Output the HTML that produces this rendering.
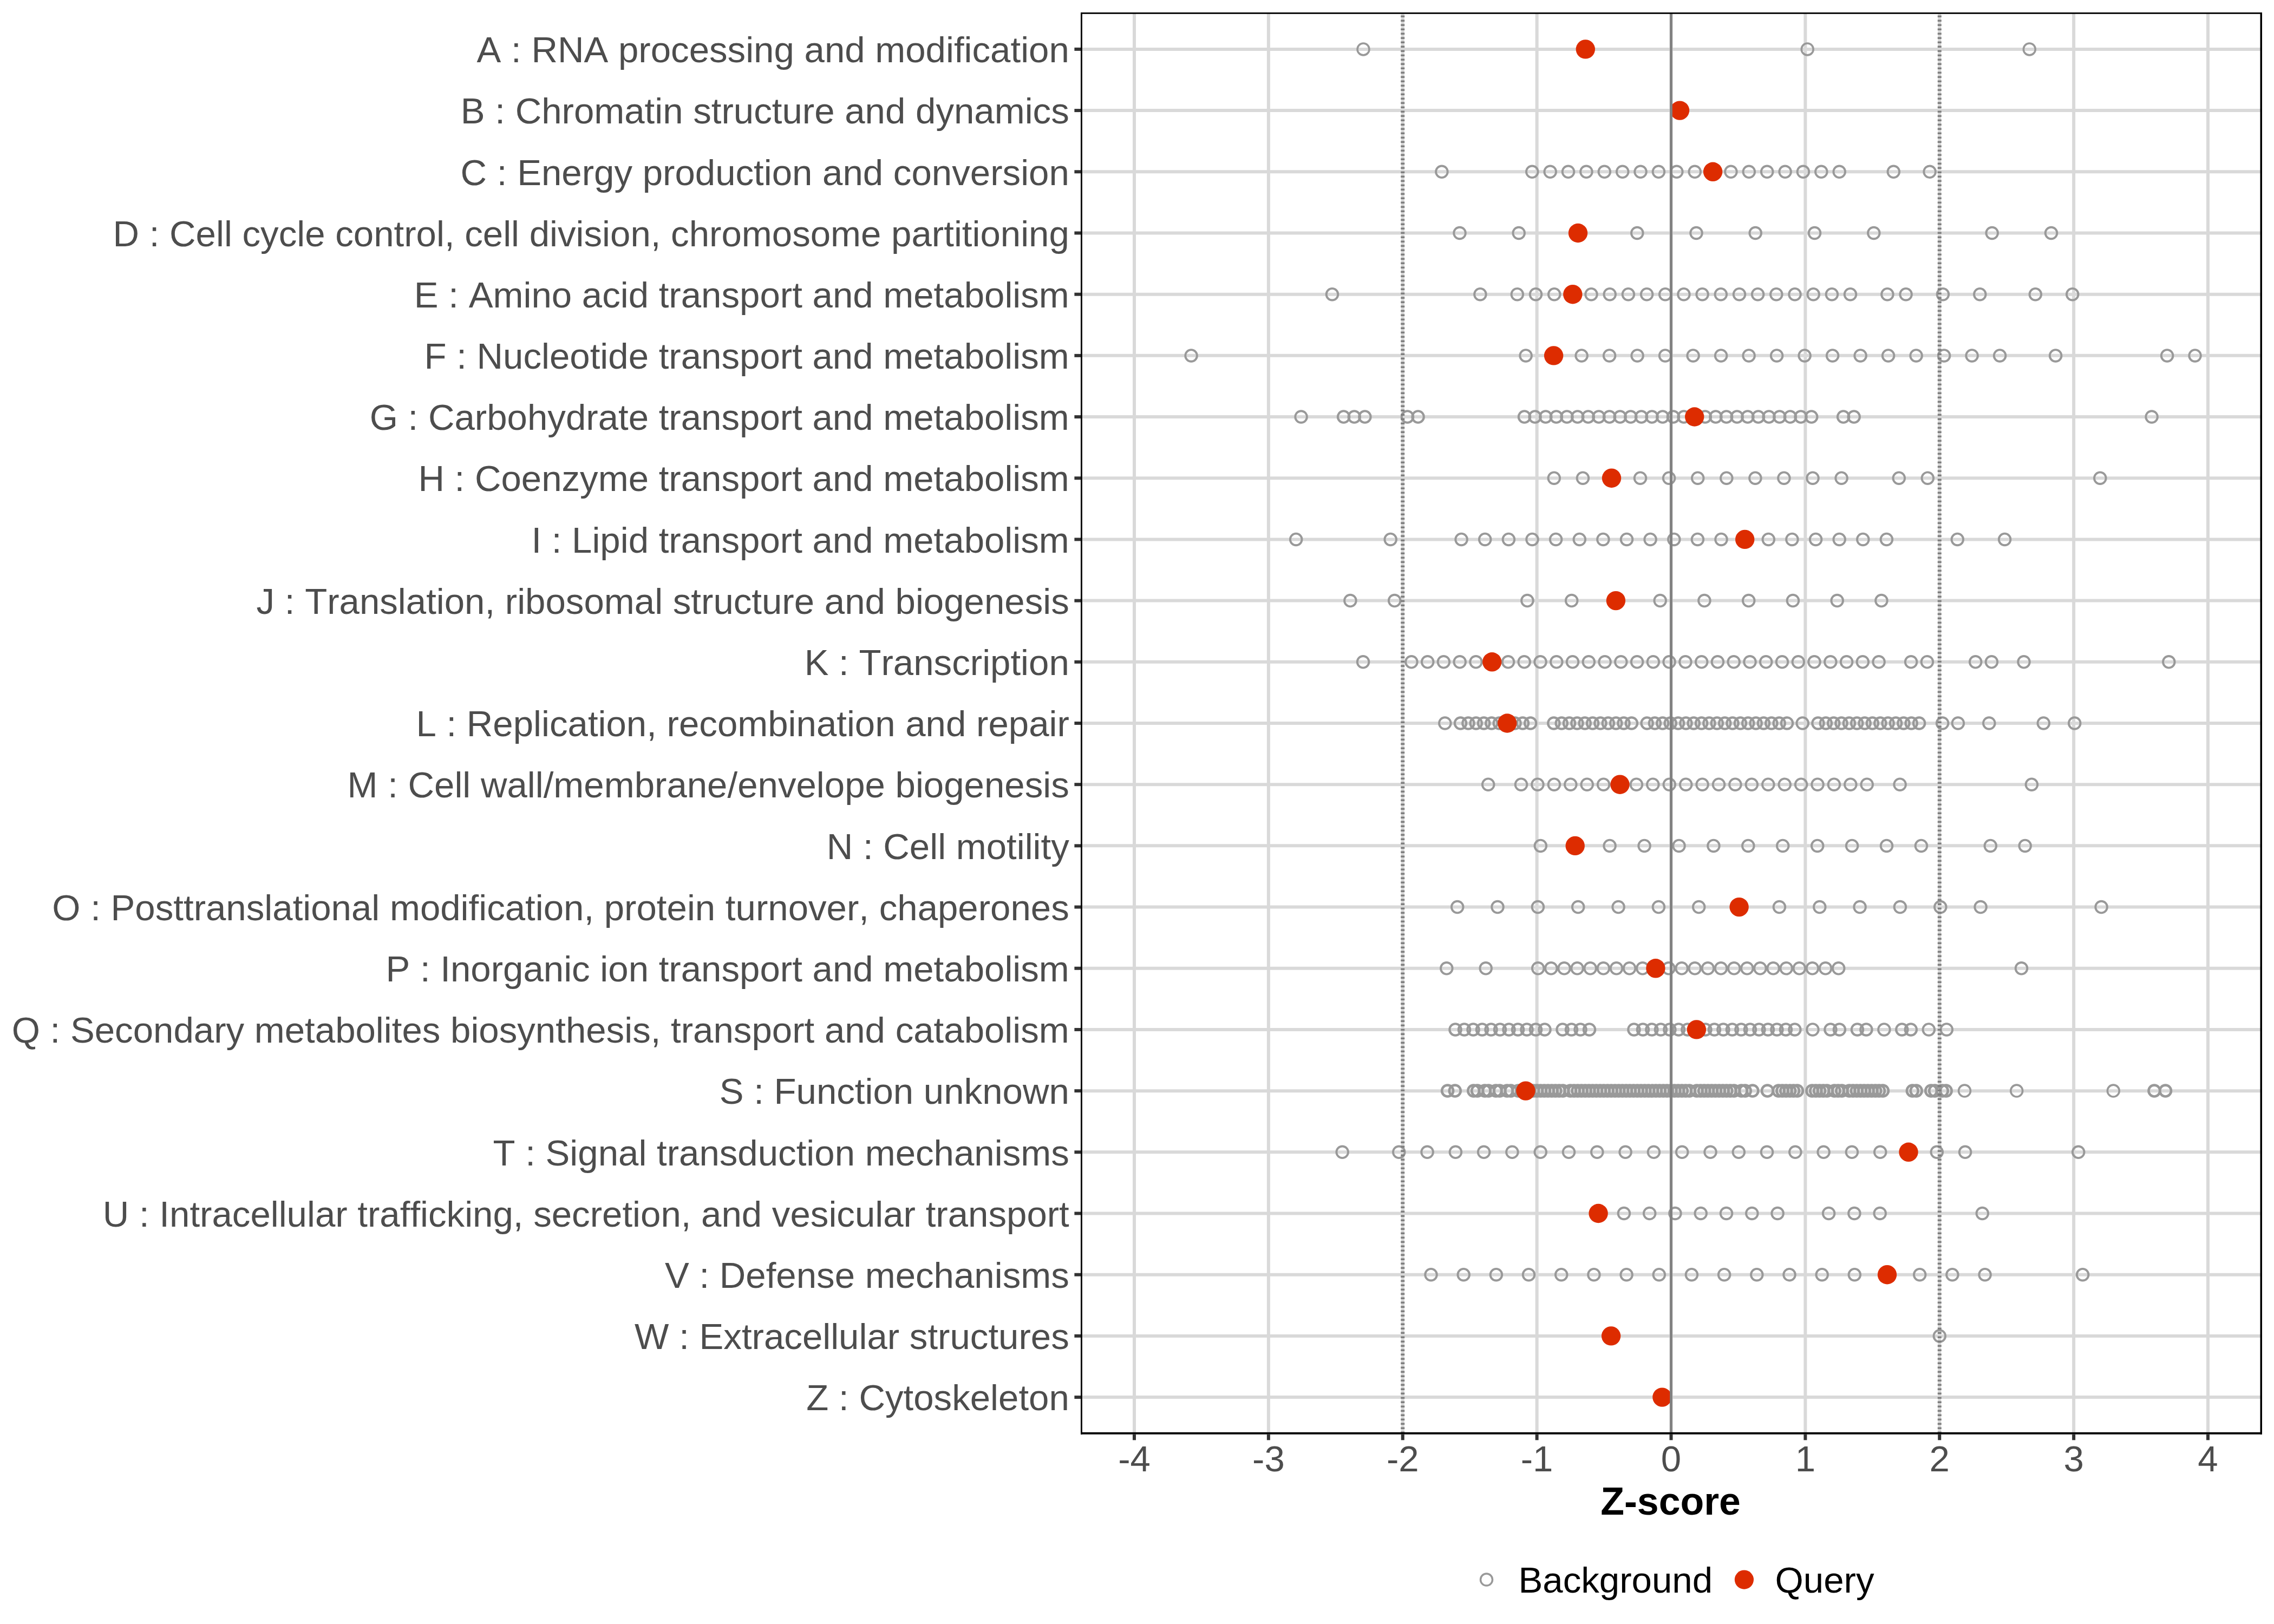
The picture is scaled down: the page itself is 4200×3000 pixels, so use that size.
<!DOCTYPE html>
<html><head><meta charset="utf-8"><title>Z-score plot</title>
<style>
html,body{margin:0;padding:0;background:#fff;}
svg{display:block;}
text{font-family:"Liberation Sans",sans-serif;font-kerning:none;}
.yl{font-size:67.2px;fill:#4D4D4D;text-anchor:end;}
.xl{font-size:67.2px;fill:#4D4D4D;text-anchor:middle;}
.ttl{font-size:71.6px;font-weight:bold;fill:#000;text-anchor:middle;}
.lg{font-size:67.2px;fill:#000;}
.g{stroke:#D9D9D9;stroke-width:6;}
.tk{stroke:#333333;stroke-width:6;}
.bg{fill:none;stroke:#999999;stroke-width:3.5;}
.q{fill:#DD2C00;}
</style></head><body>
<svg width="4200" height="3000" viewBox="0 0 4200 3000">
<rect width="4200" height="3000" fill="#fff"/>

<g class="g">
<line x1="2095.00" y1="23.0" x2="2095.00" y2="2649.7"/>
<line x1="2342.88" y1="23.0" x2="2342.88" y2="2649.7"/>
<line x1="2590.75" y1="23.0" x2="2590.75" y2="2649.7"/>
<line x1="2838.62" y1="23.0" x2="2838.62" y2="2649.7"/>
<line x1="3086.50" y1="23.0" x2="3086.50" y2="2649.7"/>
<line x1="3334.38" y1="23.0" x2="3334.38" y2="2649.7"/>
<line x1="3582.25" y1="23.0" x2="3582.25" y2="2649.7"/>
<line x1="3830.12" y1="23.0" x2="3830.12" y2="2649.7"/>
<line x1="4078.00" y1="23.0" x2="4078.00" y2="2649.7"/>
<line x1="1996.0" y1="90.90" x2="4178.0" y2="90.90"/>
<line x1="1996.0" y1="204.09" x2="4178.0" y2="204.09"/>
<line x1="1996.0" y1="317.28" x2="4178.0" y2="317.28"/>
<line x1="1996.0" y1="430.47" x2="4178.0" y2="430.47"/>
<line x1="1996.0" y1="543.66" x2="4178.0" y2="543.66"/>
<line x1="1996.0" y1="656.85" x2="4178.0" y2="656.85"/>
<line x1="1996.0" y1="770.04" x2="4178.0" y2="770.04"/>
<line x1="1996.0" y1="883.23" x2="4178.0" y2="883.23"/>
<line x1="1996.0" y1="996.42" x2="4178.0" y2="996.42"/>
<line x1="1996.0" y1="1109.61" x2="4178.0" y2="1109.61"/>
<line x1="1996.0" y1="1222.80" x2="4178.0" y2="1222.80"/>
<line x1="1996.0" y1="1335.99" x2="4178.0" y2="1335.99"/>
<line x1="1996.0" y1="1449.18" x2="4178.0" y2="1449.18"/>
<line x1="1996.0" y1="1562.37" x2="4178.0" y2="1562.37"/>
<line x1="1996.0" y1="1675.56" x2="4178.0" y2="1675.56"/>
<line x1="1996.0" y1="1788.75" x2="4178.0" y2="1788.75"/>
<line x1="1996.0" y1="1901.94" x2="4178.0" y2="1901.94"/>
<line x1="1996.0" y1="2015.13" x2="4178.0" y2="2015.13"/>
<line x1="1996.0" y1="2128.32" x2="4178.0" y2="2128.32"/>
<line x1="1996.0" y1="2241.51" x2="4178.0" y2="2241.51"/>
<line x1="1996.0" y1="2354.70" x2="4178.0" y2="2354.70"/>
<line x1="1996.0" y1="2467.89" x2="4178.0" y2="2467.89"/>
<line x1="1996.0" y1="2581.08" x2="4178.0" y2="2581.08"/>
</g>
<g class="bg">
<circle cx="2518.0" cy="90.9" r="10.95" stroke-width="3.6"/>
<circle cx="3338.2" cy="90.9" r="10.95" stroke-width="3.6"/>
<circle cx="3748.3" cy="90.9" r="10.95" stroke-width="3.6"/>
<circle cx="2662.9" cy="317.3" r="10.80" stroke-width="3.9"/>
<circle cx="2829.8" cy="317.3" r="10.80" stroke-width="3.9"/>
<circle cx="2863.2" cy="317.3" r="10.80" stroke-width="3.9"/>
<circle cx="2896.5" cy="317.3" r="10.80" stroke-width="3.9"/>
<circle cx="2929.9" cy="317.3" r="10.80" stroke-width="3.9"/>
<circle cx="2963.3" cy="317.3" r="10.80" stroke-width="3.9"/>
<circle cx="2996.7" cy="317.3" r="10.80" stroke-width="3.9"/>
<circle cx="3030.0" cy="317.3" r="10.80" stroke-width="3.9"/>
<circle cx="3063.4" cy="317.3" r="10.80" stroke-width="3.9"/>
<circle cx="3096.8" cy="317.3" r="10.80" stroke-width="3.9"/>
<circle cx="3130.2" cy="317.3" r="10.80" stroke-width="3.9"/>
<circle cx="3196.9" cy="317.3" r="10.80" stroke-width="3.9"/>
<circle cx="3230.3" cy="317.3" r="10.80" stroke-width="3.9"/>
<circle cx="3263.7" cy="317.3" r="10.80" stroke-width="3.9"/>
<circle cx="3297.1" cy="317.3" r="10.80" stroke-width="3.9"/>
<circle cx="3330.4" cy="317.3" r="10.80" stroke-width="3.9"/>
<circle cx="3363.8" cy="317.3" r="10.80" stroke-width="3.9"/>
<circle cx="3397.2" cy="317.3" r="10.80" stroke-width="3.9"/>
<circle cx="3497.3" cy="317.3" r="10.80" stroke-width="3.9"/>
<circle cx="3564.1" cy="317.3" r="10.80" stroke-width="3.9"/>
<circle cx="2696.0" cy="430.5" r="10.80" stroke-width="3.9"/>
<circle cx="2805.2" cy="430.5" r="10.80" stroke-width="3.9"/>
<circle cx="3023.8" cy="430.5" r="10.80" stroke-width="3.9"/>
<circle cx="3133.0" cy="430.5" r="10.80" stroke-width="3.9"/>
<circle cx="3242.2" cy="430.5" r="10.80" stroke-width="3.9"/>
<circle cx="3351.5" cy="430.5" r="10.80" stroke-width="3.9"/>
<circle cx="3460.8" cy="430.5" r="10.80" stroke-width="3.9"/>
<circle cx="3679.2" cy="430.5" r="10.80" stroke-width="3.9"/>
<circle cx="3788.5" cy="430.5" r="10.80" stroke-width="3.9"/>
<circle cx="2460.5" cy="543.7" r="10.80" stroke-width="3.9"/>
<circle cx="2733.9" cy="543.7" r="10.80" stroke-width="3.9"/>
<circle cx="2802.3" cy="543.7" r="10.80" stroke-width="3.9"/>
<circle cx="2836.5" cy="543.7" r="10.80" stroke-width="3.9"/>
<circle cx="2870.7" cy="543.7" r="10.80" stroke-width="3.9"/>
<circle cx="2939.0" cy="543.7" r="10.80" stroke-width="3.9"/>
<circle cx="2973.2" cy="543.7" r="10.80" stroke-width="3.9"/>
<circle cx="3007.4" cy="543.7" r="10.80" stroke-width="3.9"/>
<circle cx="3041.6" cy="543.7" r="10.80" stroke-width="3.9"/>
<circle cx="3075.7" cy="543.7" r="10.80" stroke-width="3.9"/>
<circle cx="3109.9" cy="543.7" r="10.80" stroke-width="3.9"/>
<circle cx="3144.1" cy="543.7" r="10.80" stroke-width="3.9"/>
<circle cx="3178.3" cy="543.7" r="10.80" stroke-width="3.9"/>
<circle cx="3212.5" cy="543.7" r="10.80" stroke-width="3.9"/>
<circle cx="3246.6" cy="543.7" r="10.80" stroke-width="3.9"/>
<circle cx="3280.8" cy="543.7" r="10.80" stroke-width="3.9"/>
<circle cx="3315.0" cy="543.7" r="10.80" stroke-width="3.9"/>
<circle cx="3349.2" cy="543.7" r="10.80" stroke-width="3.9"/>
<circle cx="3383.4" cy="543.7" r="10.80" stroke-width="3.9"/>
<circle cx="3417.5" cy="543.7" r="10.80" stroke-width="3.9"/>
<circle cx="3485.9" cy="543.7" r="10.80" stroke-width="3.9"/>
<circle cx="3520.1" cy="543.7" r="10.80" stroke-width="3.9"/>
<circle cx="3588.4" cy="543.7" r="10.80" stroke-width="3.9"/>
<circle cx="3656.8" cy="543.7" r="10.80" stroke-width="3.9"/>
<circle cx="3759.3" cy="543.7" r="10.80" stroke-width="3.9"/>
<circle cx="3827.7" cy="543.7" r="10.80" stroke-width="3.9"/>
<circle cx="2200.1" cy="656.9" r="10.80" stroke-width="3.9"/>
<circle cx="2818.1" cy="656.9" r="10.80" stroke-width="3.9"/>
<circle cx="2921.1" cy="656.9" r="10.80" stroke-width="3.9"/>
<circle cx="2972.6" cy="656.9" r="10.80" stroke-width="3.9"/>
<circle cx="3024.1" cy="656.9" r="10.80" stroke-width="3.9"/>
<circle cx="3075.6" cy="656.9" r="10.80" stroke-width="3.9"/>
<circle cx="3127.1" cy="656.9" r="10.80" stroke-width="3.9"/>
<circle cx="3178.6" cy="656.9" r="10.80" stroke-width="3.9"/>
<circle cx="3230.1" cy="656.9" r="10.80" stroke-width="3.9"/>
<circle cx="3281.6" cy="656.9" r="10.80" stroke-width="3.9"/>
<circle cx="3333.1" cy="656.9" r="10.80" stroke-width="3.9"/>
<circle cx="3384.6" cy="656.9" r="10.80" stroke-width="3.9"/>
<circle cx="3436.1" cy="656.9" r="10.80" stroke-width="3.9"/>
<circle cx="3487.6" cy="656.9" r="10.80" stroke-width="3.9"/>
<circle cx="3539.1" cy="656.9" r="10.80" stroke-width="3.9"/>
<circle cx="3590.6" cy="656.9" r="10.80" stroke-width="3.9"/>
<circle cx="3642.1" cy="656.9" r="10.80" stroke-width="3.9"/>
<circle cx="3693.6" cy="656.9" r="10.80" stroke-width="3.9"/>
<circle cx="3796.6" cy="656.9" r="10.80" stroke-width="3.9"/>
<circle cx="4002.6" cy="656.9" r="10.80" stroke-width="3.9"/>
<circle cx="4054.1" cy="656.9" r="10.80" stroke-width="3.9"/>
<circle cx="2403.1" cy="770.0" r="10.80" stroke-width="3.9"/>
<circle cx="2481.6" cy="770.0" r="10.70" stroke-width="4.1"/>
<circle cx="2501.3" cy="770.0" r="10.70" stroke-width="4.1"/>
<circle cx="2520.9" cy="770.0" r="10.70" stroke-width="4.1"/>
<circle cx="2599.5" cy="770.0" r="10.70" stroke-width="4.1"/>
<circle cx="2619.1" cy="770.0" r="10.70" stroke-width="4.1"/>
<circle cx="2815.5" cy="770.0" r="10.70" stroke-width="4.1"/>
<circle cx="2835.1" cy="770.0" r="10.70" stroke-width="4.1"/>
<circle cx="2854.8" cy="770.0" r="10.70" stroke-width="4.1"/>
<circle cx="2874.4" cy="770.0" r="10.70" stroke-width="4.1"/>
<circle cx="2894.0" cy="770.0" r="10.70" stroke-width="4.1"/>
<circle cx="2913.7" cy="770.0" r="10.70" stroke-width="4.1"/>
<circle cx="2933.3" cy="770.0" r="10.70" stroke-width="4.1"/>
<circle cx="2952.9" cy="770.0" r="10.70" stroke-width="4.1"/>
<circle cx="2972.6" cy="770.0" r="10.70" stroke-width="4.1"/>
<circle cx="2992.2" cy="770.0" r="10.70" stroke-width="4.1"/>
<circle cx="3011.8" cy="770.0" r="10.70" stroke-width="4.1"/>
<circle cx="3031.5" cy="770.0" r="10.70" stroke-width="4.1"/>
<circle cx="3051.1" cy="770.0" r="10.70" stroke-width="4.1"/>
<circle cx="3070.8" cy="770.0" r="10.70" stroke-width="4.1"/>
<circle cx="3090.4" cy="770.0" r="10.70" stroke-width="4.1"/>
<circle cx="3110.0" cy="770.0" r="10.70" stroke-width="4.1"/>
<circle cx="3149.3" cy="770.0" r="10.70" stroke-width="4.1"/>
<circle cx="3168.9" cy="770.0" r="10.70" stroke-width="4.1"/>
<circle cx="3188.6" cy="770.0" r="10.70" stroke-width="4.1"/>
<circle cx="3208.2" cy="770.0" r="10.70" stroke-width="4.1"/>
<circle cx="3227.9" cy="770.0" r="10.70" stroke-width="4.1"/>
<circle cx="3247.5" cy="770.0" r="10.70" stroke-width="4.1"/>
<circle cx="3267.1" cy="770.0" r="10.70" stroke-width="4.1"/>
<circle cx="3286.8" cy="770.0" r="10.70" stroke-width="4.1"/>
<circle cx="3306.4" cy="770.0" r="10.70" stroke-width="4.1"/>
<circle cx="3326.0" cy="770.0" r="10.70" stroke-width="4.1"/>
<circle cx="3345.7" cy="770.0" r="10.70" stroke-width="4.1"/>
<circle cx="3404.6" cy="770.0" r="10.70" stroke-width="4.1"/>
<circle cx="3424.2" cy="770.0" r="10.70" stroke-width="4.1"/>
<circle cx="3974.1" cy="770.0" r="10.80" stroke-width="3.9"/>
<circle cx="2870.3" cy="883.2" r="10.80" stroke-width="3.9"/>
<circle cx="2923.4" cy="883.2" r="10.80" stroke-width="3.9"/>
<circle cx="3029.5" cy="883.2" r="10.80" stroke-width="3.9"/>
<circle cx="3082.6" cy="883.2" r="10.80" stroke-width="3.9"/>
<circle cx="3135.7" cy="883.2" r="10.80" stroke-width="3.9"/>
<circle cx="3188.8" cy="883.2" r="10.80" stroke-width="3.9"/>
<circle cx="3241.9" cy="883.2" r="10.80" stroke-width="3.9"/>
<circle cx="3294.9" cy="883.2" r="10.80" stroke-width="3.9"/>
<circle cx="3348.0" cy="883.2" r="10.80" stroke-width="3.9"/>
<circle cx="3401.1" cy="883.2" r="10.80" stroke-width="3.9"/>
<circle cx="3507.3" cy="883.2" r="10.80" stroke-width="3.9"/>
<circle cx="3560.3" cy="883.2" r="10.80" stroke-width="3.9"/>
<circle cx="3878.8" cy="883.2" r="10.80" stroke-width="3.9"/>
<circle cx="2393.7" cy="996.4" r="10.80" stroke-width="3.9"/>
<circle cx="2568.2" cy="996.4" r="10.80" stroke-width="3.9"/>
<circle cx="2699.1" cy="996.4" r="10.80" stroke-width="3.9"/>
<circle cx="2742.7" cy="996.4" r="10.80" stroke-width="3.9"/>
<circle cx="2786.4" cy="996.4" r="10.80" stroke-width="3.9"/>
<circle cx="2830.0" cy="996.4" r="10.80" stroke-width="3.9"/>
<circle cx="2873.6" cy="996.4" r="10.80" stroke-width="3.9"/>
<circle cx="2917.3" cy="996.4" r="10.80" stroke-width="3.9"/>
<circle cx="2960.9" cy="996.4" r="10.80" stroke-width="3.9"/>
<circle cx="3004.5" cy="996.4" r="10.80" stroke-width="3.9"/>
<circle cx="3048.1" cy="996.4" r="10.80" stroke-width="3.9"/>
<circle cx="3091.8" cy="996.4" r="10.80" stroke-width="3.9"/>
<circle cx="3135.4" cy="996.4" r="10.80" stroke-width="3.9"/>
<circle cx="3179.0" cy="996.4" r="10.80" stroke-width="3.9"/>
<circle cx="3266.3" cy="996.4" r="10.80" stroke-width="3.9"/>
<circle cx="3309.9" cy="996.4" r="10.80" stroke-width="3.9"/>
<circle cx="3353.6" cy="996.4" r="10.80" stroke-width="3.9"/>
<circle cx="3397.2" cy="996.4" r="10.80" stroke-width="3.9"/>
<circle cx="3440.8" cy="996.4" r="10.80" stroke-width="3.9"/>
<circle cx="3484.4" cy="996.4" r="10.80" stroke-width="3.9"/>
<circle cx="3615.3" cy="996.4" r="10.80" stroke-width="3.9"/>
<circle cx="3702.6" cy="996.4" r="10.80" stroke-width="3.9"/>
<circle cx="2493.9" cy="1109.6" r="10.80" stroke-width="3.9"/>
<circle cx="2575.7" cy="1109.6" r="10.80" stroke-width="3.9"/>
<circle cx="2820.9" cy="1109.6" r="10.80" stroke-width="3.9"/>
<circle cx="2902.7" cy="1109.6" r="10.80" stroke-width="3.9"/>
<circle cx="3066.2" cy="1109.6" r="10.80" stroke-width="3.9"/>
<circle cx="3147.9" cy="1109.6" r="10.80" stroke-width="3.9"/>
<circle cx="3229.7" cy="1109.6" r="10.80" stroke-width="3.9"/>
<circle cx="3311.4" cy="1109.6" r="10.80" stroke-width="3.9"/>
<circle cx="3393.2" cy="1109.6" r="10.80" stroke-width="3.9"/>
<circle cx="3474.9" cy="1109.6" r="10.80" stroke-width="3.9"/>
<circle cx="2517.6" cy="1222.8" r="10.80" stroke-width="3.9"/>
<circle cx="2606.9" cy="1222.8" r="10.80" stroke-width="3.9"/>
<circle cx="2636.7" cy="1222.8" r="10.80" stroke-width="3.9"/>
<circle cx="2666.4" cy="1222.8" r="10.80" stroke-width="3.9"/>
<circle cx="2696.2" cy="1222.8" r="10.80" stroke-width="3.9"/>
<circle cx="2726.0" cy="1222.8" r="10.80" stroke-width="3.9"/>
<circle cx="2785.5" cy="1222.8" r="10.80" stroke-width="3.9"/>
<circle cx="2815.2" cy="1222.8" r="10.80" stroke-width="3.9"/>
<circle cx="2845.0" cy="1222.8" r="10.80" stroke-width="3.9"/>
<circle cx="2874.8" cy="1222.8" r="10.80" stroke-width="3.9"/>
<circle cx="2904.5" cy="1222.8" r="10.80" stroke-width="3.9"/>
<circle cx="2934.3" cy="1222.8" r="10.80" stroke-width="3.9"/>
<circle cx="2964.1" cy="1222.8" r="10.80" stroke-width="3.9"/>
<circle cx="2993.8" cy="1222.8" r="10.80" stroke-width="3.9"/>
<circle cx="3023.6" cy="1222.8" r="10.80" stroke-width="3.9"/>
<circle cx="3053.4" cy="1222.8" r="10.80" stroke-width="3.9"/>
<circle cx="3083.1" cy="1222.8" r="10.80" stroke-width="3.9"/>
<circle cx="3112.9" cy="1222.8" r="10.80" stroke-width="3.9"/>
<circle cx="3142.7" cy="1222.8" r="10.80" stroke-width="3.9"/>
<circle cx="3172.4" cy="1222.8" r="10.80" stroke-width="3.9"/>
<circle cx="3202.2" cy="1222.8" r="10.80" stroke-width="3.9"/>
<circle cx="3232.0" cy="1222.8" r="10.80" stroke-width="3.9"/>
<circle cx="3261.7" cy="1222.8" r="10.80" stroke-width="3.9"/>
<circle cx="3291.5" cy="1222.8" r="10.80" stroke-width="3.9"/>
<circle cx="3321.3" cy="1222.8" r="10.80" stroke-width="3.9"/>
<circle cx="3351.0" cy="1222.8" r="10.80" stroke-width="3.9"/>
<circle cx="3380.8" cy="1222.8" r="10.80" stroke-width="3.9"/>
<circle cx="3410.6" cy="1222.8" r="10.80" stroke-width="3.9"/>
<circle cx="3440.3" cy="1222.8" r="10.80" stroke-width="3.9"/>
<circle cx="3470.1" cy="1222.8" r="10.80" stroke-width="3.9"/>
<circle cx="3529.6" cy="1222.8" r="10.80" stroke-width="3.9"/>
<circle cx="3559.4" cy="1222.8" r="10.80" stroke-width="3.9"/>
<circle cx="3648.7" cy="1222.8" r="10.80" stroke-width="3.9"/>
<circle cx="3678.4" cy="1222.8" r="10.80" stroke-width="3.9"/>
<circle cx="3738.0" cy="1222.8" r="10.80" stroke-width="3.9"/>
<circle cx="4005.8" cy="1222.8" r="10.80" stroke-width="3.9"/>
<circle cx="2668.8" cy="1336.0" r="10.80" stroke-width="3.9"/>
<circle cx="2697.5" cy="1336.0" r="10.65" stroke-width="4.2"/>
<circle cx="2711.9" cy="1336.0" r="10.65" stroke-width="4.2"/>
<circle cx="2726.2" cy="1336.0" r="10.65" stroke-width="4.2"/>
<circle cx="2740.6" cy="1336.0" r="10.65" stroke-width="4.2"/>
<circle cx="2754.9" cy="1336.0" r="10.65" stroke-width="4.2"/>
<circle cx="2769.3" cy="1336.0" r="10.65" stroke-width="4.2"/>
<circle cx="2798.0" cy="1336.0" r="10.65" stroke-width="4.2"/>
<circle cx="2812.4" cy="1336.0" r="10.65" stroke-width="4.2"/>
<circle cx="2826.7" cy="1336.0" r="10.65" stroke-width="4.2"/>
<circle cx="2869.8" cy="1336.0" r="10.65" stroke-width="4.2"/>
<circle cx="2884.2" cy="1336.0" r="10.65" stroke-width="4.2"/>
<circle cx="2898.5" cy="1336.0" r="10.65" stroke-width="4.2"/>
<circle cx="2912.9" cy="1336.0" r="10.65" stroke-width="4.2"/>
<circle cx="2927.2" cy="1336.0" r="10.65" stroke-width="4.2"/>
<circle cx="2941.6" cy="1336.0" r="10.65" stroke-width="4.2"/>
<circle cx="2955.9" cy="1336.0" r="10.65" stroke-width="4.2"/>
<circle cx="2970.3" cy="1336.0" r="10.65" stroke-width="4.2"/>
<circle cx="2984.7" cy="1336.0" r="10.65" stroke-width="4.2"/>
<circle cx="2999.0" cy="1336.0" r="10.65" stroke-width="4.2"/>
<circle cx="3013.4" cy="1336.0" r="10.65" stroke-width="4.2"/>
<circle cx="3042.1" cy="1336.0" r="10.65" stroke-width="4.2"/>
<circle cx="3056.4" cy="1336.0" r="10.65" stroke-width="4.2"/>
<circle cx="3070.8" cy="1336.0" r="10.65" stroke-width="4.2"/>
<circle cx="3085.2" cy="1336.0" r="10.65" stroke-width="4.2"/>
<circle cx="3099.5" cy="1336.0" r="10.65" stroke-width="4.2"/>
<circle cx="3113.9" cy="1336.0" r="10.65" stroke-width="4.2"/>
<circle cx="3128.2" cy="1336.0" r="10.65" stroke-width="4.2"/>
<circle cx="3142.6" cy="1336.0" r="10.65" stroke-width="4.2"/>
<circle cx="3156.9" cy="1336.0" r="10.65" stroke-width="4.2"/>
<circle cx="3171.3" cy="1336.0" r="10.65" stroke-width="4.2"/>
<circle cx="3185.7" cy="1336.0" r="10.65" stroke-width="4.2"/>
<circle cx="3200.0" cy="1336.0" r="10.65" stroke-width="4.2"/>
<circle cx="3214.4" cy="1336.0" r="10.65" stroke-width="4.2"/>
<circle cx="3228.7" cy="1336.0" r="10.65" stroke-width="4.2"/>
<circle cx="3243.1" cy="1336.0" r="10.65" stroke-width="4.2"/>
<circle cx="3257.4" cy="1336.0" r="10.65" stroke-width="4.2"/>
<circle cx="3271.8" cy="1336.0" r="10.65" stroke-width="4.2"/>
<circle cx="3286.2" cy="1336.0" r="10.65" stroke-width="4.2"/>
<circle cx="3300.5" cy="1336.0" r="10.65" stroke-width="4.2"/>
<circle cx="3329.2" cy="1336.0" r="10.80" stroke-width="3.9"/>
<circle cx="3357.9" cy="1336.0" r="10.65" stroke-width="4.2"/>
<circle cx="3372.3" cy="1336.0" r="10.65" stroke-width="4.2"/>
<circle cx="3386.7" cy="1336.0" r="10.65" stroke-width="4.2"/>
<circle cx="3401.0" cy="1336.0" r="10.65" stroke-width="4.2"/>
<circle cx="3415.4" cy="1336.0" r="10.65" stroke-width="4.2"/>
<circle cx="3429.7" cy="1336.0" r="10.65" stroke-width="4.2"/>
<circle cx="3444.1" cy="1336.0" r="10.65" stroke-width="4.2"/>
<circle cx="3458.4" cy="1336.0" r="10.65" stroke-width="4.2"/>
<circle cx="3472.8" cy="1336.0" r="10.65" stroke-width="4.2"/>
<circle cx="3487.1" cy="1336.0" r="10.65" stroke-width="4.2"/>
<circle cx="3501.5" cy="1336.0" r="10.65" stroke-width="4.2"/>
<circle cx="3515.9" cy="1336.0" r="10.65" stroke-width="4.2"/>
<circle cx="3530.2" cy="1336.0" r="10.65" stroke-width="4.2"/>
<circle cx="3544.6" cy="1336.0" r="10.65" stroke-width="4.2"/>
<circle cx="3587.6" cy="1336.0" r="10.80" stroke-width="3.9"/>
<circle cx="3616.4" cy="1336.0" r="10.80" stroke-width="3.9"/>
<circle cx="3673.8" cy="1336.0" r="10.80" stroke-width="3.9"/>
<circle cx="3774.3" cy="1336.0" r="10.80" stroke-width="3.9"/>
<circle cx="3831.7" cy="1336.0" r="10.80" stroke-width="3.9"/>
<circle cx="2748.7" cy="1449.2" r="10.80" stroke-width="3.9"/>
<circle cx="2809.5" cy="1449.2" r="10.80" stroke-width="3.9"/>
<circle cx="2839.9" cy="1449.2" r="10.80" stroke-width="3.9"/>
<circle cx="2870.4" cy="1449.2" r="10.80" stroke-width="3.9"/>
<circle cx="2900.8" cy="1449.2" r="10.80" stroke-width="3.9"/>
<circle cx="2931.2" cy="1449.2" r="10.80" stroke-width="3.9"/>
<circle cx="2961.6" cy="1449.2" r="10.80" stroke-width="3.9"/>
<circle cx="3022.4" cy="1449.2" r="10.80" stroke-width="3.9"/>
<circle cx="3052.8" cy="1449.2" r="10.80" stroke-width="3.9"/>
<circle cx="3083.3" cy="1449.2" r="10.80" stroke-width="3.9"/>
<circle cx="3113.7" cy="1449.2" r="10.80" stroke-width="3.9"/>
<circle cx="3144.1" cy="1449.2" r="10.80" stroke-width="3.9"/>
<circle cx="3174.5" cy="1449.2" r="10.80" stroke-width="3.9"/>
<circle cx="3204.9" cy="1449.2" r="10.80" stroke-width="3.9"/>
<circle cx="3235.3" cy="1449.2" r="10.80" stroke-width="3.9"/>
<circle cx="3265.8" cy="1449.2" r="10.80" stroke-width="3.9"/>
<circle cx="3296.2" cy="1449.2" r="10.80" stroke-width="3.9"/>
<circle cx="3326.6" cy="1449.2" r="10.80" stroke-width="3.9"/>
<circle cx="3357.0" cy="1449.2" r="10.80" stroke-width="3.9"/>
<circle cx="3387.4" cy="1449.2" r="10.80" stroke-width="3.9"/>
<circle cx="3417.8" cy="1449.2" r="10.80" stroke-width="3.9"/>
<circle cx="3448.2" cy="1449.2" r="10.80" stroke-width="3.9"/>
<circle cx="3509.1" cy="1449.2" r="10.80" stroke-width="3.9"/>
<circle cx="3752.4" cy="1449.2" r="10.80" stroke-width="3.9"/>
<circle cx="2845.3" cy="1562.4" r="10.80" stroke-width="3.9"/>
<circle cx="2973.1" cy="1562.4" r="10.80" stroke-width="3.9"/>
<circle cx="3037.1" cy="1562.4" r="10.80" stroke-width="3.9"/>
<circle cx="3101.0" cy="1562.4" r="10.80" stroke-width="3.9"/>
<circle cx="3164.9" cy="1562.4" r="10.80" stroke-width="3.9"/>
<circle cx="3228.8" cy="1562.4" r="10.80" stroke-width="3.9"/>
<circle cx="3292.7" cy="1562.4" r="10.80" stroke-width="3.9"/>
<circle cx="3356.7" cy="1562.4" r="10.80" stroke-width="3.9"/>
<circle cx="3420.6" cy="1562.4" r="10.80" stroke-width="3.9"/>
<circle cx="3484.5" cy="1562.4" r="10.80" stroke-width="3.9"/>
<circle cx="3548.4" cy="1562.4" r="10.80" stroke-width="3.9"/>
<circle cx="3676.3" cy="1562.4" r="10.80" stroke-width="3.9"/>
<circle cx="3740.2" cy="1562.4" r="10.80" stroke-width="3.9"/>
<circle cx="2691.7" cy="1675.6" r="10.80" stroke-width="3.9"/>
<circle cx="2766.0" cy="1675.6" r="10.80" stroke-width="3.9"/>
<circle cx="2840.4" cy="1675.6" r="10.80" stroke-width="3.9"/>
<circle cx="2914.7" cy="1675.6" r="10.80" stroke-width="3.9"/>
<circle cx="2989.1" cy="1675.6" r="10.80" stroke-width="3.9"/>
<circle cx="3063.4" cy="1675.6" r="10.80" stroke-width="3.9"/>
<circle cx="3137.7" cy="1675.6" r="10.80" stroke-width="3.9"/>
<circle cx="3286.4" cy="1675.6" r="10.80" stroke-width="3.9"/>
<circle cx="3360.8" cy="1675.6" r="10.80" stroke-width="3.9"/>
<circle cx="3435.1" cy="1675.6" r="10.80" stroke-width="3.9"/>
<circle cx="3509.4" cy="1675.6" r="10.80" stroke-width="3.9"/>
<circle cx="3583.8" cy="1675.6" r="10.80" stroke-width="3.9"/>
<circle cx="3658.1" cy="1675.6" r="10.80" stroke-width="3.9"/>
<circle cx="3881.1" cy="1675.6" r="10.80" stroke-width="3.9"/>
<circle cx="2671.8" cy="1788.8" r="10.80" stroke-width="3.9"/>
<circle cx="2744.2" cy="1788.8" r="10.80" stroke-width="3.9"/>
<circle cx="2840.7" cy="1788.8" r="10.80" stroke-width="3.9"/>
<circle cx="2864.8" cy="1788.8" r="10.80" stroke-width="3.9"/>
<circle cx="2889.0" cy="1788.8" r="10.80" stroke-width="3.9"/>
<circle cx="2913.1" cy="1788.8" r="10.80" stroke-width="3.9"/>
<circle cx="2937.2" cy="1788.8" r="10.80" stroke-width="3.9"/>
<circle cx="2961.4" cy="1788.8" r="10.80" stroke-width="3.9"/>
<circle cx="2985.5" cy="1788.8" r="10.80" stroke-width="3.9"/>
<circle cx="3009.6" cy="1788.8" r="10.80" stroke-width="3.9"/>
<circle cx="3033.8" cy="1788.8" r="10.80" stroke-width="3.9"/>
<circle cx="3082.0" cy="1788.8" r="10.80" stroke-width="3.9"/>
<circle cx="3106.1" cy="1788.8" r="10.80" stroke-width="3.9"/>
<circle cx="3130.3" cy="1788.8" r="10.80" stroke-width="3.9"/>
<circle cx="3154.4" cy="1788.8" r="10.80" stroke-width="3.9"/>
<circle cx="3178.5" cy="1788.8" r="10.80" stroke-width="3.9"/>
<circle cx="3202.7" cy="1788.8" r="10.80" stroke-width="3.9"/>
<circle cx="3226.8" cy="1788.8" r="10.80" stroke-width="3.9"/>
<circle cx="3250.9" cy="1788.8" r="10.80" stroke-width="3.9"/>
<circle cx="3275.1" cy="1788.8" r="10.80" stroke-width="3.9"/>
<circle cx="3299.2" cy="1788.8" r="10.80" stroke-width="3.9"/>
<circle cx="3323.3" cy="1788.8" r="10.80" stroke-width="3.9"/>
<circle cx="3347.4" cy="1788.8" r="10.80" stroke-width="3.9"/>
<circle cx="3371.6" cy="1788.8" r="10.80" stroke-width="3.9"/>
<circle cx="3395.7" cy="1788.8" r="10.80" stroke-width="3.9"/>
<circle cx="3733.5" cy="1788.8" r="10.80" stroke-width="3.9"/>
<circle cx="2688.0" cy="1901.9" r="10.65" stroke-width="4.2"/>
<circle cx="2704.5" cy="1901.9" r="10.65" stroke-width="4.2"/>
<circle cx="2721.0" cy="1901.9" r="10.65" stroke-width="4.2"/>
<circle cx="2737.5" cy="1901.9" r="10.65" stroke-width="4.2"/>
<circle cx="2754.0" cy="1901.9" r="10.65" stroke-width="4.2"/>
<circle cx="2770.5" cy="1901.9" r="10.65" stroke-width="4.2"/>
<circle cx="2787.0" cy="1901.9" r="10.65" stroke-width="4.2"/>
<circle cx="2803.5" cy="1901.9" r="10.65" stroke-width="4.2"/>
<circle cx="2820.0" cy="1901.9" r="10.65" stroke-width="4.2"/>
<circle cx="2836.5" cy="1901.9" r="10.65" stroke-width="4.2"/>
<circle cx="2853.0" cy="1901.9" r="10.65" stroke-width="4.2"/>
<circle cx="2886.0" cy="1901.9" r="10.65" stroke-width="4.2"/>
<circle cx="2902.5" cy="1901.9" r="10.65" stroke-width="4.2"/>
<circle cx="2919.0" cy="1901.9" r="10.65" stroke-width="4.2"/>
<circle cx="2935.5" cy="1901.9" r="10.65" stroke-width="4.2"/>
<circle cx="3017.9" cy="1901.9" r="10.65" stroke-width="4.2"/>
<circle cx="3034.4" cy="1901.9" r="10.65" stroke-width="4.2"/>
<circle cx="3050.9" cy="1901.9" r="10.65" stroke-width="4.2"/>
<circle cx="3067.4" cy="1901.9" r="10.65" stroke-width="4.2"/>
<circle cx="3083.9" cy="1901.9" r="10.65" stroke-width="4.2"/>
<circle cx="3100.4" cy="1901.9" r="10.65" stroke-width="4.2"/>
<circle cx="3116.9" cy="1901.9" r="10.65" stroke-width="4.2"/>
<circle cx="3149.9" cy="1901.9" r="10.65" stroke-width="4.2"/>
<circle cx="3166.4" cy="1901.9" r="10.65" stroke-width="4.2"/>
<circle cx="3182.9" cy="1901.9" r="10.65" stroke-width="4.2"/>
<circle cx="3199.4" cy="1901.9" r="10.65" stroke-width="4.2"/>
<circle cx="3215.9" cy="1901.9" r="10.65" stroke-width="4.2"/>
<circle cx="3232.4" cy="1901.9" r="10.65" stroke-width="4.2"/>
<circle cx="3248.9" cy="1901.9" r="10.65" stroke-width="4.2"/>
<circle cx="3265.4" cy="1901.9" r="10.65" stroke-width="4.2"/>
<circle cx="3281.9" cy="1901.9" r="10.65" stroke-width="4.2"/>
<circle cx="3298.4" cy="1901.9" r="10.65" stroke-width="4.2"/>
<circle cx="3314.9" cy="1901.9" r="10.65" stroke-width="4.2"/>
<circle cx="3347.9" cy="1901.9" r="10.80" stroke-width="3.9"/>
<circle cx="3380.9" cy="1901.9" r="10.65" stroke-width="4.2"/>
<circle cx="3397.4" cy="1901.9" r="10.65" stroke-width="4.2"/>
<circle cx="3430.4" cy="1901.9" r="10.65" stroke-width="4.2"/>
<circle cx="3446.9" cy="1901.9" r="10.65" stroke-width="4.2"/>
<circle cx="3479.9" cy="1901.9" r="10.80" stroke-width="3.9"/>
<circle cx="3512.8" cy="1901.9" r="10.65" stroke-width="4.2"/>
<circle cx="3529.3" cy="1901.9" r="10.65" stroke-width="4.2"/>
<circle cx="3562.3" cy="1901.9" r="10.80" stroke-width="3.9"/>
<circle cx="3595.3" cy="1901.9" r="10.80" stroke-width="3.9"/>
<circle cx="2673.6" cy="2015.1" r="10.45" stroke-width="4.6"/>
<circle cx="2687.3" cy="2015.1" r="10.45" stroke-width="4.6"/>
<circle cx="2721.7" cy="2015.1" r="10.45" stroke-width="4.6"/>
<circle cx="2728.6" cy="2015.1" r="10.45" stroke-width="4.6"/>
<circle cx="2742.3" cy="2015.1" r="10.45" stroke-width="4.6"/>
<circle cx="2749.2" cy="2015.1" r="10.45" stroke-width="4.6"/>
<circle cx="2762.9" cy="2015.1" r="10.45" stroke-width="4.6"/>
<circle cx="2769.8" cy="2015.1" r="10.45" stroke-width="4.6"/>
<circle cx="2783.5" cy="2015.1" r="10.45" stroke-width="4.6"/>
<circle cx="2790.4" cy="2015.1" r="10.45" stroke-width="4.6"/>
<circle cx="2804.1" cy="2015.1" r="10.45" stroke-width="4.6"/>
<circle cx="2811.0" cy="2015.1" r="10.45" stroke-width="4.6"/>
<circle cx="2824.7" cy="2015.1" r="10.45" stroke-width="4.6"/>
<circle cx="2831.6" cy="2015.1" r="10.45" stroke-width="4.6"/>
<circle cx="2838.5" cy="2015.1" r="10.45" stroke-width="4.6"/>
<circle cx="2845.3" cy="2015.1" r="10.45" stroke-width="4.6"/>
<circle cx="2852.2" cy="2015.1" r="10.45" stroke-width="4.6"/>
<circle cx="2859.1" cy="2015.1" r="10.45" stroke-width="4.6"/>
<circle cx="2866.0" cy="2015.1" r="10.45" stroke-width="4.6"/>
<circle cx="2872.8" cy="2015.1" r="10.45" stroke-width="4.6"/>
<circle cx="2879.7" cy="2015.1" r="10.45" stroke-width="4.6"/>
<circle cx="2886.6" cy="2015.1" r="10.45" stroke-width="4.6"/>
<circle cx="2900.3" cy="2015.1" r="10.45" stroke-width="4.6"/>
<circle cx="2907.2" cy="2015.1" r="10.45" stroke-width="4.6"/>
<circle cx="2914.0" cy="2015.1" r="10.45" stroke-width="4.6"/>
<circle cx="2920.9" cy="2015.1" r="10.45" stroke-width="4.6"/>
<circle cx="2927.8" cy="2015.1" r="10.45" stroke-width="4.6"/>
<circle cx="2934.7" cy="2015.1" r="10.45" stroke-width="4.6"/>
<circle cx="2941.5" cy="2015.1" r="10.45" stroke-width="4.6"/>
<circle cx="2948.4" cy="2015.1" r="10.45" stroke-width="4.6"/>
<circle cx="2955.3" cy="2015.1" r="10.45" stroke-width="4.6"/>
<circle cx="2962.1" cy="2015.1" r="10.45" stroke-width="4.6"/>
<circle cx="2969.0" cy="2015.1" r="10.45" stroke-width="4.6"/>
<circle cx="2975.9" cy="2015.1" r="10.45" stroke-width="4.6"/>
<circle cx="2982.8" cy="2015.1" r="10.45" stroke-width="4.6"/>
<circle cx="2989.6" cy="2015.1" r="10.45" stroke-width="4.6"/>
<circle cx="2996.5" cy="2015.1" r="10.45" stroke-width="4.6"/>
<circle cx="3003.4" cy="2015.1" r="10.45" stroke-width="4.6"/>
<circle cx="3010.2" cy="2015.1" r="10.45" stroke-width="4.6"/>
<circle cx="3017.1" cy="2015.1" r="10.45" stroke-width="4.6"/>
<circle cx="3024.0" cy="2015.1" r="10.45" stroke-width="4.6"/>
<circle cx="3030.8" cy="2015.1" r="10.45" stroke-width="4.6"/>
<circle cx="3037.7" cy="2015.1" r="10.45" stroke-width="4.6"/>
<circle cx="3044.6" cy="2015.1" r="10.45" stroke-width="4.6"/>
<circle cx="3051.4" cy="2015.1" r="10.45" stroke-width="4.6"/>
<circle cx="3058.3" cy="2015.1" r="10.45" stroke-width="4.6"/>
<circle cx="3065.2" cy="2015.1" r="10.45" stroke-width="4.6"/>
<circle cx="3072.1" cy="2015.1" r="10.45" stroke-width="4.6"/>
<circle cx="3078.9" cy="2015.1" r="10.45" stroke-width="4.6"/>
<circle cx="3085.8" cy="2015.1" r="10.45" stroke-width="4.6"/>
<circle cx="3092.7" cy="2015.1" r="10.45" stroke-width="4.6"/>
<circle cx="3099.5" cy="2015.1" r="10.45" stroke-width="4.6"/>
<circle cx="3106.4" cy="2015.1" r="10.45" stroke-width="4.6"/>
<circle cx="3113.3" cy="2015.1" r="10.45" stroke-width="4.6"/>
<circle cx="3120.2" cy="2015.1" r="10.45" stroke-width="4.6"/>
<circle cx="3133.9" cy="2015.1" r="10.45" stroke-width="4.6"/>
<circle cx="3140.8" cy="2015.1" r="10.45" stroke-width="4.6"/>
<circle cx="3147.6" cy="2015.1" r="10.45" stroke-width="4.6"/>
<circle cx="3154.5" cy="2015.1" r="10.45" stroke-width="4.6"/>
<circle cx="3161.4" cy="2015.1" r="10.45" stroke-width="4.6"/>
<circle cx="3168.2" cy="2015.1" r="10.45" stroke-width="4.6"/>
<circle cx="3175.1" cy="2015.1" r="10.45" stroke-width="4.6"/>
<circle cx="3182.0" cy="2015.1" r="10.45" stroke-width="4.6"/>
<circle cx="3188.8" cy="2015.1" r="10.45" stroke-width="4.6"/>
<circle cx="3195.7" cy="2015.1" r="10.45" stroke-width="4.6"/>
<circle cx="3202.6" cy="2015.1" r="10.45" stroke-width="4.6"/>
<circle cx="3216.3" cy="2015.1" r="10.45" stroke-width="4.6"/>
<circle cx="3223.2" cy="2015.1" r="10.45" stroke-width="4.6"/>
<circle cx="3236.9" cy="2015.1" r="10.45" stroke-width="4.6"/>
<circle cx="3264.4" cy="2015.1" r="10.45" stroke-width="4.6"/>
<circle cx="3285.0" cy="2015.1" r="10.45" stroke-width="4.6"/>
<circle cx="3291.9" cy="2015.1" r="10.45" stroke-width="4.6"/>
<circle cx="3298.8" cy="2015.1" r="10.45" stroke-width="4.6"/>
<circle cx="3305.6" cy="2015.1" r="10.45" stroke-width="4.6"/>
<circle cx="3312.5" cy="2015.1" r="10.45" stroke-width="4.6"/>
<circle cx="3319.4" cy="2015.1" r="10.45" stroke-width="4.6"/>
<circle cx="3346.9" cy="2015.1" r="10.45" stroke-width="4.6"/>
<circle cx="3353.7" cy="2015.1" r="10.45" stroke-width="4.6"/>
<circle cx="3360.6" cy="2015.1" r="10.45" stroke-width="4.6"/>
<circle cx="3367.5" cy="2015.1" r="10.45" stroke-width="4.6"/>
<circle cx="3374.3" cy="2015.1" r="10.45" stroke-width="4.6"/>
<circle cx="3388.1" cy="2015.1" r="10.45" stroke-width="4.6"/>
<circle cx="3394.9" cy="2015.1" r="10.45" stroke-width="4.6"/>
<circle cx="3401.8" cy="2015.1" r="10.45" stroke-width="4.6"/>
<circle cx="3415.6" cy="2015.1" r="10.45" stroke-width="4.6"/>
<circle cx="3422.4" cy="2015.1" r="10.45" stroke-width="4.6"/>
<circle cx="3429.3" cy="2015.1" r="10.45" stroke-width="4.6"/>
<circle cx="3436.2" cy="2015.1" r="10.45" stroke-width="4.6"/>
<circle cx="3443.0" cy="2015.1" r="10.45" stroke-width="4.6"/>
<circle cx="3449.9" cy="2015.1" r="10.45" stroke-width="4.6"/>
<circle cx="3456.8" cy="2015.1" r="10.45" stroke-width="4.6"/>
<circle cx="3463.7" cy="2015.1" r="10.45" stroke-width="4.6"/>
<circle cx="3470.5" cy="2015.1" r="10.45" stroke-width="4.6"/>
<circle cx="3477.4" cy="2015.1" r="10.45" stroke-width="4.6"/>
<circle cx="3532.3" cy="2015.1" r="10.45" stroke-width="4.6"/>
<circle cx="3539.2" cy="2015.1" r="10.45" stroke-width="4.6"/>
<circle cx="3566.7" cy="2015.1" r="10.45" stroke-width="4.6"/>
<circle cx="3573.6" cy="2015.1" r="10.45" stroke-width="4.6"/>
<circle cx="3587.3" cy="2015.1" r="10.45" stroke-width="4.6"/>
<circle cx="3594.2" cy="2015.1" r="10.45" stroke-width="4.6"/>
<circle cx="3628.5" cy="2015.1" r="10.95" stroke-width="3.6"/>
<circle cx="3724.7" cy="2015.1" r="10.95" stroke-width="3.6"/>
<circle cx="3903.3" cy="2015.1" r="10.95" stroke-width="3.6"/>
<circle cx="3978.9" cy="2015.1" r="10.45" stroke-width="4.6"/>
<circle cx="3999.5" cy="2015.1" r="10.45" stroke-width="4.6"/>
<circle cx="2479.2" cy="2128.3" r="10.80" stroke-width="3.9"/>
<circle cx="2583.8" cy="2128.3" r="10.80" stroke-width="3.9"/>
<circle cx="2636.1" cy="2128.3" r="10.80" stroke-width="3.9"/>
<circle cx="2688.4" cy="2128.3" r="10.80" stroke-width="3.9"/>
<circle cx="2740.6" cy="2128.3" r="10.80" stroke-width="3.9"/>
<circle cx="2792.9" cy="2128.3" r="10.80" stroke-width="3.9"/>
<circle cx="2845.2" cy="2128.3" r="10.80" stroke-width="3.9"/>
<circle cx="2897.5" cy="2128.3" r="10.80" stroke-width="3.9"/>
<circle cx="2949.8" cy="2128.3" r="10.80" stroke-width="3.9"/>
<circle cx="3002.1" cy="2128.3" r="10.80" stroke-width="3.9"/>
<circle cx="3054.4" cy="2128.3" r="10.80" stroke-width="3.9"/>
<circle cx="3106.7" cy="2128.3" r="10.80" stroke-width="3.9"/>
<circle cx="3159.0" cy="2128.3" r="10.80" stroke-width="3.9"/>
<circle cx="3211.3" cy="2128.3" r="10.80" stroke-width="3.9"/>
<circle cx="3263.5" cy="2128.3" r="10.80" stroke-width="3.9"/>
<circle cx="3315.8" cy="2128.3" r="10.80" stroke-width="3.9"/>
<circle cx="3368.1" cy="2128.3" r="10.80" stroke-width="3.9"/>
<circle cx="3420.4" cy="2128.3" r="10.80" stroke-width="3.9"/>
<circle cx="3472.7" cy="2128.3" r="10.80" stroke-width="3.9"/>
<circle cx="3577.3" cy="2128.3" r="10.80" stroke-width="3.9"/>
<circle cx="3629.6" cy="2128.3" r="10.80" stroke-width="3.9"/>
<circle cx="3838.7" cy="2128.3" r="10.80" stroke-width="3.9"/>
<circle cx="2999.4" cy="2241.5" r="10.80" stroke-width="3.9"/>
<circle cx="3046.7" cy="2241.5" r="10.80" stroke-width="3.9"/>
<circle cx="3093.9" cy="2241.5" r="10.80" stroke-width="3.9"/>
<circle cx="3141.2" cy="2241.5" r="10.80" stroke-width="3.9"/>
<circle cx="3188.5" cy="2241.5" r="10.80" stroke-width="3.9"/>
<circle cx="3235.8" cy="2241.5" r="10.80" stroke-width="3.9"/>
<circle cx="3283.1" cy="2241.5" r="10.80" stroke-width="3.9"/>
<circle cx="3377.6" cy="2241.5" r="10.80" stroke-width="3.9"/>
<circle cx="3424.9" cy="2241.5" r="10.80" stroke-width="3.9"/>
<circle cx="3472.2" cy="2241.5" r="10.80" stroke-width="3.9"/>
<circle cx="3661.3" cy="2241.5" r="10.80" stroke-width="3.9"/>
<circle cx="2643.0" cy="2354.7" r="10.80" stroke-width="3.9"/>
<circle cx="2703.2" cy="2354.7" r="10.80" stroke-width="3.9"/>
<circle cx="2763.4" cy="2354.7" r="10.80" stroke-width="3.9"/>
<circle cx="2823.5" cy="2354.7" r="10.80" stroke-width="3.9"/>
<circle cx="2883.7" cy="2354.7" r="10.80" stroke-width="3.9"/>
<circle cx="2943.9" cy="2354.7" r="10.80" stroke-width="3.9"/>
<circle cx="3004.1" cy="2354.7" r="10.80" stroke-width="3.9"/>
<circle cx="3064.3" cy="2354.7" r="10.80" stroke-width="3.9"/>
<circle cx="3124.4" cy="2354.7" r="10.80" stroke-width="3.9"/>
<circle cx="3184.6" cy="2354.7" r="10.80" stroke-width="3.9"/>
<circle cx="3244.8" cy="2354.7" r="10.80" stroke-width="3.9"/>
<circle cx="3305.0" cy="2354.7" r="10.80" stroke-width="3.9"/>
<circle cx="3365.2" cy="2354.7" r="10.80" stroke-width="3.9"/>
<circle cx="3425.3" cy="2354.7" r="10.80" stroke-width="3.9"/>
<circle cx="3545.7" cy="2354.7" r="10.80" stroke-width="3.9"/>
<circle cx="3605.9" cy="2354.7" r="10.80" stroke-width="3.9"/>
<circle cx="3666.1" cy="2354.7" r="10.80" stroke-width="3.9"/>
<circle cx="3846.6" cy="2354.7" r="10.80" stroke-width="3.9"/>
<circle cx="3582.3" cy="2467.9" r="10.80" stroke-width="3.9"/>
</g><g class="q">
<circle cx="2928.3" cy="90.9" r="17.7"/>
<circle cx="3102.5" cy="204.1" r="17.7"/>
<circle cx="3163.6" cy="317.3" r="17.7"/>
<circle cx="2914.5" cy="430.5" r="17.7"/>
<circle cx="2904.8" cy="543.7" r="17.7"/>
<circle cx="2869.6" cy="656.9" r="17.7"/>
<circle cx="3129.7" cy="770.0" r="17.7"/>
<circle cx="2976.5" cy="883.2" r="17.7"/>
<circle cx="3222.7" cy="996.4" r="17.7"/>
<circle cx="2984.4" cy="1109.6" r="17.7"/>
<circle cx="2755.7" cy="1222.8" r="17.7"/>
<circle cx="2783.7" cy="1336.0" r="17.7"/>
<circle cx="2992.0" cy="1449.2" r="17.7"/>
<circle cx="2909.2" cy="1562.4" r="17.7"/>
<circle cx="3212.1" cy="1675.6" r="17.7"/>
<circle cx="3057.9" cy="1788.8" r="17.7"/>
<circle cx="3133.4" cy="1901.9" r="17.7"/>
<circle cx="2817.9" cy="2015.1" r="17.7"/>
<circle cx="3525.0" cy="2128.3" r="17.7"/>
<circle cx="2952.1" cy="2241.5" r="17.7"/>
<circle cx="3485.5" cy="2354.7" r="17.7"/>
<circle cx="2975.6" cy="2467.9" r="17.7"/>
<circle cx="3069.9" cy="2581.1" r="17.7"/>
</g>
<line x1="3086.50" y1="23.0" x2="3086.50" y2="2649.7" stroke="#808080" stroke-width="4.8"/>
<line x1="2590.75" y1="23.0" x2="2590.75" y2="2649.7" stroke="#7F7F7F" stroke-width="7" stroke-dasharray="3.5 4.5" stroke-dashoffset="2.45"/>
<line x1="3582.25" y1="23.0" x2="3582.25" y2="2649.7" stroke="#7F7F7F" stroke-width="7" stroke-dasharray="3.5 4.5" stroke-dashoffset="2.45"/>
<g fill="#000"><rect x="1996.0" y="23.0" width="2182.0" height="2.8"/><rect x="1996.0" y="2645.7999999999997" width="2182.0" height="3.9"/><rect x="1996.0" y="23.0" width="2.9" height="2626.7"/><rect x="4174.5" y="23.0" width="3.5" height="2626.7"/></g>
<g class="tk">
<line x1="1984.4" y1="90.90" x2="1996.0" y2="90.90"/>
<line x1="1984.4" y1="204.09" x2="1996.0" y2="204.09"/>
<line x1="1984.4" y1="317.28" x2="1996.0" y2="317.28"/>
<line x1="1984.4" y1="430.47" x2="1996.0" y2="430.47"/>
<line x1="1984.4" y1="543.66" x2="1996.0" y2="543.66"/>
<line x1="1984.4" y1="656.85" x2="1996.0" y2="656.85"/>
<line x1="1984.4" y1="770.04" x2="1996.0" y2="770.04"/>
<line x1="1984.4" y1="883.23" x2="1996.0" y2="883.23"/>
<line x1="1984.4" y1="996.42" x2="1996.0" y2="996.42"/>
<line x1="1984.4" y1="1109.61" x2="1996.0" y2="1109.61"/>
<line x1="1984.4" y1="1222.80" x2="1996.0" y2="1222.80"/>
<line x1="1984.4" y1="1335.99" x2="1996.0" y2="1335.99"/>
<line x1="1984.4" y1="1449.18" x2="1996.0" y2="1449.18"/>
<line x1="1984.4" y1="1562.37" x2="1996.0" y2="1562.37"/>
<line x1="1984.4" y1="1675.56" x2="1996.0" y2="1675.56"/>
<line x1="1984.4" y1="1788.75" x2="1996.0" y2="1788.75"/>
<line x1="1984.4" y1="1901.94" x2="1996.0" y2="1901.94"/>
<line x1="1984.4" y1="2015.13" x2="1996.0" y2="2015.13"/>
<line x1="1984.4" y1="2128.32" x2="1996.0" y2="2128.32"/>
<line x1="1984.4" y1="2241.51" x2="1996.0" y2="2241.51"/>
<line x1="1984.4" y1="2354.70" x2="1996.0" y2="2354.70"/>
<line x1="1984.4" y1="2467.89" x2="1996.0" y2="2467.89"/>
<line x1="1984.4" y1="2581.08" x2="1996.0" y2="2581.08"/>
<line x1="2095.00" y1="2649.7" x2="2095.00" y2="2660.2999999999997"/>
<line x1="2342.88" y1="2649.7" x2="2342.88" y2="2660.2999999999997"/>
<line x1="2590.75" y1="2649.7" x2="2590.75" y2="2660.2999999999997"/>
<line x1="2838.62" y1="2649.7" x2="2838.62" y2="2660.2999999999997"/>
<line x1="3086.50" y1="2649.7" x2="3086.50" y2="2660.2999999999997"/>
<line x1="3334.38" y1="2649.7" x2="3334.38" y2="2660.2999999999997"/>
<line x1="3582.25" y1="2649.7" x2="3582.25" y2="2660.2999999999997"/>
<line x1="3830.12" y1="2649.7" x2="3830.12" y2="2660.2999999999997"/>
<line x1="4078.00" y1="2649.7" x2="4078.00" y2="2660.2999999999997"/>
</g>
<text class="yl" x="1974.8" y="115.1">A : RNA processing and modification</text>
<text class="yl" x="1974.8" y="228.3">B : Chromatin structure and dynamics</text>
<text class="yl" x="1974.8" y="341.5">C : Energy production and conversion</text>
<text class="yl" x="1974.8" y="454.7">D : Cell cycle control, cell division, chromosome partitioning</text>
<text class="yl" x="1974.8" y="567.9">E : Amino acid transport and metabolism</text>
<text class="yl" x="1974.8" y="681.1">F : Nucleotide transport and metabolism</text>
<text class="yl" x="1974.8" y="794.2">G : Carbohydrate transport and metabolism</text>
<text class="yl" x="1974.8" y="907.4">H : Coenzyme transport and metabolism</text>
<text class="yl" x="1974.8" y="1020.6">I : Lipid transport and metabolism</text>
<text class="yl" x="1974.8" y="1133.8">J : Translation, ribosomal structure and biogenesis</text>
<text class="yl" x="1974.8" y="1247.0">K : Transcription</text>
<text class="yl" x="1974.8" y="1360.2">L : Replication, recombination and repair</text>
<text class="yl" x="1974.8" y="1473.4">M : Cell wall/membrane/envelope biogenesis</text>
<text class="yl" x="1974.8" y="1586.6">N : Cell motility</text>
<text class="yl" x="1974.8" y="1699.8">O : Posttranslational modification, protein turnover, chaperones</text>
<text class="yl" x="1974.8" y="1813.0">P : Inorganic ion transport and metabolism</text>
<text class="yl" x="1974.8" y="1926.1">Q : Secondary metabolites biosynthesis, transport and catabolism</text>
<text class="yl" x="1974.8" y="2039.3">S : Function unknown</text>
<text class="yl" x="1974.8" y="2152.5">T : Signal transduction mechanisms</text>
<text class="yl" x="1974.8" y="2265.7">U : Intracellular trafficking, secretion, and vesicular transport</text>
<text class="yl" x="1974.8" y="2378.9">V : Defense mechanisms</text>
<text class="yl" x="1974.8" y="2492.1">W : Extracellular structures</text>
<text class="yl" x="1974.8" y="2605.3">Z : Cytoskeleton</text>
<text class="xl" x="2095.0" y="2718.3">-4</text>
<text class="xl" x="2342.9" y="2718.3">-3</text>
<text class="xl" x="2590.8" y="2718.3">-2</text>
<text class="xl" x="2838.6" y="2718.3">-1</text>
<text class="xl" x="3086.5" y="2718.3">0</text>
<text class="xl" x="3334.4" y="2718.3">1</text>
<text class="xl" x="3582.2" y="2718.3">2</text>
<text class="xl" x="3830.1" y="2718.3">3</text>
<text class="xl" x="4078.0" y="2718.3">4</text>
<text class="ttl" x="3085.6" y="2798.4">Z-score</text>
<circle cx="2745.5" cy="2918.1" r="11" class="bg"/><circle cx="3221.4" cy="2918.1" r="17.6" class="q"/>
<text class="lg" x="2804.5" y="2942.4">Background</text><text class="lg" x="3278.6" y="2942.4">Query</text>
</svg></body></html>
